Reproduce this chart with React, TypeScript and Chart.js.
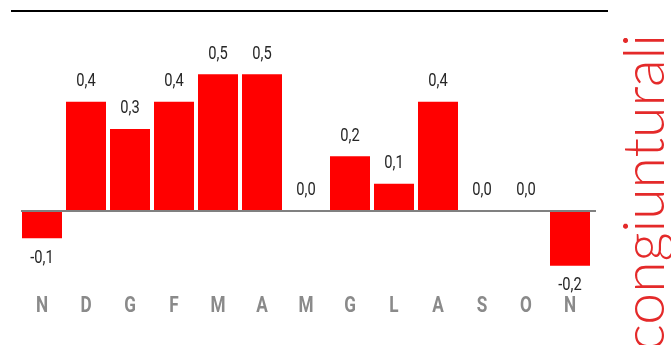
import React, { useEffect, useRef } from "react";
import { Chart, registerables } from "chart.js";

Chart.register(...registerables);

// Monthly changes, November to November
const categories = ["N", "D", "G", "F", "M", "A", "M", "G", "L", "A", "S", "O", "N"];
const values = [-0.1, 0.4, 0.3, 0.4, 0.5, 0.5, 0.0, 0.2, 0.1, 0.4, 0.0, 0.0, -0.2];
const sideTitle = "congiunturali";

const BAR_RED = "#ff0000";
const AXIS_GREY = "#808080";
const LABEL_GREY = "#8a8a8a";
const TEXT_DARK = "#262626";
const TITLE_RED = "#e42a2a";

const fmt = (v: number) => v.toFixed(1).replace(".", ",");

// Draws text squeezed horizontally to get a narrow face
function narrowText(ctx: CanvasRenderingContext2D, text: string, x: number, y: number, squeeze: number) {
  ctx.save();
  ctx.translate(x, y);
  ctx.scale(squeeze, 1);
  ctx.fillText(text, 0, 0);
  ctx.restore();
}

const decorations = {
  id: "decorations",
  afterDatasetsDraw(chart: any) {
    const { ctx, chartArea } = chart;
    const xs = chart.scales.x;
    const ys = chart.scales.y;
    const zero = ys.getPixelForValue(0);

    ctx.save();
    // top rule
    ctx.fillStyle = "#000";
    ctx.fillRect(11, 10, 597, 2);

    // zero line
    ctx.fillStyle = AXIS_GREY;
    ctx.fillRect(chartArea.left + 1, zero - 1, chartArea.right - chartArea.left + 3, 2);

    // value labels
    ctx.fillStyle = TEXT_DARK;
    ctx.font = "17.5px Roboto, 'Liberation Sans', sans-serif";
    ctx.textAlign = "center";
    ctx.textBaseline = "middle";
    values.forEach((v, i) => {
      const x = xs.getPixelForValue(i);
      const yv = ys.getPixelForValue(v);
      const y = v < 0 ? yv + 20 : yv - 20;
      narrowText(ctx, fmt(v), x, y, 0.84);
    });

    // category labels
    ctx.fillStyle = LABEL_GREY;
    ctx.font = "bold 22px Roboto, 'Liberation Sans', sans-serif";
    categories.forEach((c, i) => {
      narrowText(ctx, c, xs.getPixelForValue(i), 306, 0.78);
    });

    // vertical side title
    ctx.fillStyle = TITLE_RED;
    ctx.font = "300 57px Lato, 'Open Sans', sans-serif";
    ctx.textAlign = "left";
    ctx.textBaseline = "alphabetic";
    ctx.translate(664, 351);
    ctx.rotate(-Math.PI / 2);
    ctx.fillText(sideTitle, 0, 0);
    ctx.restore();
  },
};

export default function App() {
  const ref = useRef<HTMLCanvasElement>(null);

  useEffect(() => {
    document.body.style.margin = "0";
    const canvas = ref.current;
    if (!canvas) return;
    const chart = new Chart(canvas, {
      type: "bar",
      data: {
        labels: categories,
        datasets: [
          {
            data: values,
            backgroundColor: BAR_RED,
            borderWidth: 0,
            barPercentage: 1,
            categoryPercentage: 40 / 44,
          },
        ],
      },
      options: {
        responsive: false,
        animation: false,
        events: [],
        layout: { padding: { left: 20, right: 79, top: 47, bottom: 52 } },
        plugins: {
          legend: { display: false },
          tooltip: { enabled: false },
          title: { display: false },
        },
        scales: {
          x: { display: false },
          y: { display: false, min: -0.3, max: 0.6 },
        },
      },
      plugins: [decorations],
    });
    return () => chart.destroy();
  }, []);

  return (
    <div style={{ width: 671, height: 345, position: "relative", background: "#fff" }}>
      <canvas ref={ref} width={671} height={345} style={{ display: "block" }} />
    </div>
  );
}
